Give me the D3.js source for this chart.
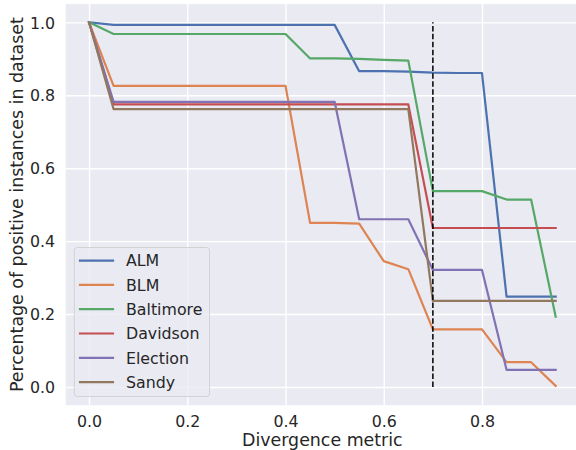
<!DOCTYPE html>
<html>
<head>
<meta charset="utf-8">
<script src="https://cdn.jsdelivr.net/npm/d3@7"></script>
<style>
  body { margin: 0; background: white; }
  svg { display: block; font-family: "DejaVu Sans", sans-serif; }
</style>
</head>
<body>
<svg id="chart" width="576" height="450"></svg>
<script>
const divergence = [0, 0.05, 0.1, 0.15, 0.2, 0.25, 0.3, 0.35, 0.4, 0.45,
  0.5, 0.55, 0.6, 0.65, 0.7, 0.75, 0.8, 0.85, 0.9, 0.95];

const alm = [1.0, 0.993, 0.993, 0.993, 0.993, 0.993, 0.993, 0.993, 0.993, 0.993,
  0.993, 0.866, 0.866, 0.865, 0.862, 0.861, 0.861, 0.248, 0.248, 0.248];
const blm = [1.0, 0.826, 0.826, 0.826, 0.826, 0.826, 0.826, 0.826, 0.826, 0.450,
  0.450, 0.448, 0.345, 0.323, 0.158, 0.158, 0.158, 0.068, 0.068, 0.003];
const baltimore = [1.0, 0.968, 0.968, 0.968, 0.968, 0.968, 0.968, 0.968, 0.968, 0.901,
  0.901, 0.900, 0.897, 0.895, 0.537, 0.537, 0.537, 0.514, 0.514, 0.193];
const davidson = [1.0, 0.775, 0.775, 0.775, 0.775, 0.775, 0.775, 0.775, 0.775, 0.775,
  0.775, 0.775, 0.775, 0.775, 0.436, 0.436, 0.436, 0.436, 0.436, 0.436];
const election = [1.0, 0.782, 0.782, 0.782, 0.782, 0.782, 0.782, 0.782, 0.782, 0.782,
  0.782, 0.460, 0.460, 0.460, 0.321, 0.321, 0.321, 0.047, 0.047, 0.047];
const sandy = [1.0, 0.762, 0.762, 0.762, 0.762, 0.762, 0.762, 0.762, 0.762, 0.762,
  0.762, 0.762, 0.762, 0.762, 0.236, 0.236, 0.236, 0.236, 0.236, 0.236];

const seriesNames = ["ALM", "BLM", "Baltimore", "Davidson", "Election", "Sandy"];
const seriesValues = [alm, blm, baltimore, davidson, election, sandy];
const colors = ["#4c72b0", "#dd8452", "#55a868", "#c44e52", "#8172b3", "#937860"];

const xTicks = [0, 0.2, 0.4, 0.6, 0.8];
const yTicks = [0, 0.2, 0.4, 0.6, 0.8, 1.0];
const cutoff = 0.7;

const textColor = "#262626";
const tickFont = 15.8;
const labelFont = 17.4;

const svg = d3.select("#chart");

// plot area (runs a little past the right edge of the picture)
const plotLeft = 65.7, plotRight = 579, plotTop = 4.1, plotBottom = 405.2;

const x = d3.scaleLinear().domain([-0.0475, 0.9975]).range([plotLeft, plotRight]);
const y = d3.scaleLinear().domain([-0.05, 1.05]).range([plotBottom, plotTop]);

svg.append("rect")
  .attr("x", plotLeft)
  .attr("y", plotTop)
  .attr("width", plotRight - plotLeft)
  .attr("height", plotBottom - plotTop)
  .attr("fill", "#eaeaf2");

// Grid
const gridX = svg.append("g")
  .attr("transform", `translate(0,${plotBottom})`)
  .call(d3.axisBottom(x).tickValues(xTicks).tickSize(-(plotBottom - plotTop)).tickFormat(""));
const gridY = svg.append("g")
  .attr("transform", `translate(${plotLeft},0)`)
  .call(d3.axisLeft(y).tickValues(yTicks).tickSize(-(plotRight - plotLeft)).tickFormat(""));
[gridX, gridY].forEach((g) => {
  g.select(".domain").remove();
  g.selectAll("line").attr("stroke", "white").attr("stroke-width", 1.4);
});

// Tick labels
const xAxis = svg.append("g")
  .attr("transform", `translate(0,${plotBottom})`)
  .call(d3.axisBottom(x).tickValues(xTicks).tickSize(0).tickPadding(10.6).tickFormat(d3.format(".1f")));
const yAxis = svg.append("g")
  .attr("transform", `translate(${plotLeft},0)`)
  .call(d3.axisLeft(y).tickValues(yTicks).tickSize(0).tickPadding(10.7).tickFormat(d3.format(".1f")));
[xAxis, yAxis].forEach((g) => {
  g.select(".domain").remove();
  g.selectAll("text")
    .attr("fill", textColor)
    .attr("font-size", tickFont)
    .attr("font-family", "DejaVu Sans");
});
yAxis.selectAll("text").attr("dy", "0.36em");

// Lines
const line = d3.line()
  .x((d, i) => x(divergence[i]))
  .y((d) => y(d));

svg.append("g")
  .selectAll("path")
  .data(seriesValues)
  .join("path")
  .attr("d", line)
  .attr("fill", "none")
  .attr("stroke", (d, i) => colors[i])
  .attr("stroke-width", 2.2)
  .attr("stroke-linejoin", "round")
  .attr("stroke-linecap", "square");

// Cutoff marker
svg.append("line")
  .attr("x1", x(cutoff))
  .attr("x2", x(cutoff))
  .attr("y1", y(0))
  .attr("y2", y(1))
  .attr("stroke", "black")
  .attr("stroke-width", 1.5)
  .attr("stroke-dasharray", "5.5,2.4");

// Legend
const legend = svg.append("g");
legend.append("rect")
  .attr("x", 74.3)
  .attr("y", 247.5)
  .attr("width", 135.2)
  .attr("height", 149)
  .attr("rx", 3)
  .attr("fill", "#eaeaf2")
  .attr("fill-opacity", 0.8)
  .attr("stroke", "#cccccc")
  .attr("stroke-opacity", 0.8)
  .attr("stroke-width", 1);

const entry = legend.selectAll("g.entry")
  .data(seriesNames)
  .join("g")
  .attr("class", "entry")
  .attr("transform", (d, i) => `translate(0,${260.6 + i * 24.3})`);

entry.append("line")
  .attr("x1", 80)
  .attr("x2", 113)
  .attr("stroke", (d, i) => colors[i])
  .attr("stroke-width", 2.2)
  .attr("stroke-linecap", "square");

entry.append("text")
  .attr("x", 126)
  .attr("dy", "0.36em")
  .attr("font-size", tickFont)
  .attr("fill", textColor)
  .text((d) => d);

// Axis titles
svg.append("text")
  .attr("x", (plotLeft + plotRight) / 2)
  .attr("y", 446)
  .attr("text-anchor", "middle")
  .attr("font-size", labelFont)
  .attr("fill", textColor)
  .text("Divergence metric");

svg.append("text")
  .attr("transform", `translate(23,${(plotTop + plotBottom) / 2}) rotate(-90)`)
  .attr("text-anchor", "middle")
  .attr("font-size", labelFont)
  .attr("fill", textColor)
  .text("Percentage of positive instances in dataset");
</script>
</body>
</html>
